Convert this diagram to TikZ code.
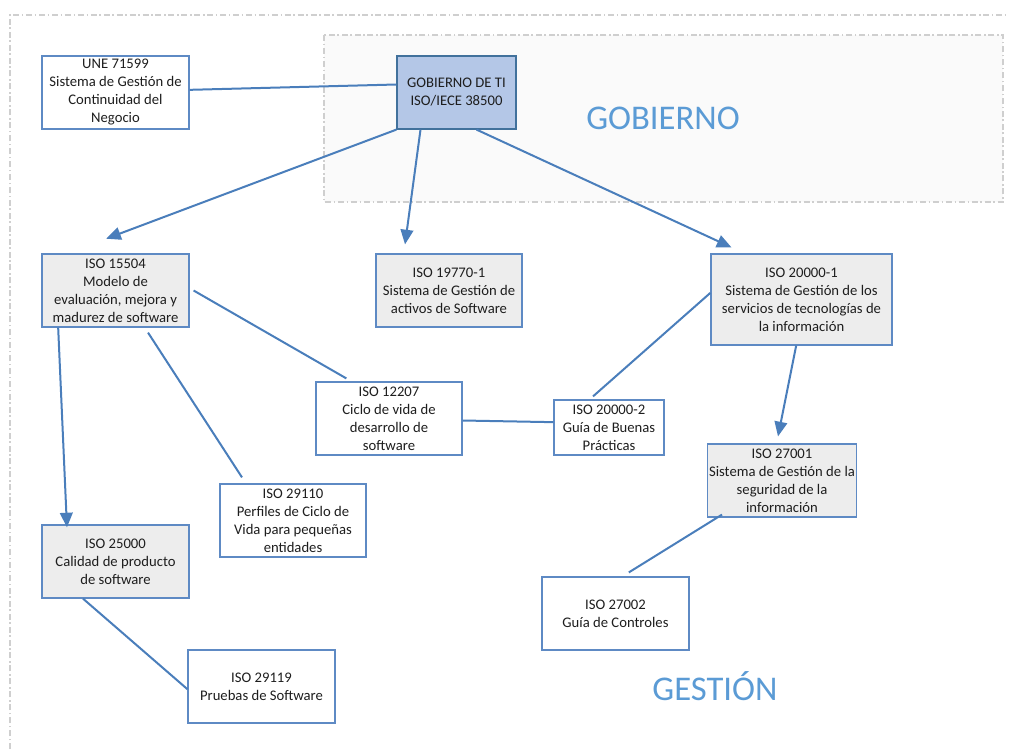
\documentclass[tikz,border=0pt]{standalone}
\usepackage{fontspec}
\setmainfont{Carlito}
\usepackage{tikz}
\usetikzlibrary{arrows.meta,shapes}
\definecolor{linkblue}{HTML}{4A7EBB}
\definecolor{boxline}{HTML}{5E8AC4}
\definecolor{headline}{HTML}{41719C}
\definecolor{headfill}{HTML}{B4C7E7}
\definecolor{greyfill}{HTML}{EDEDED}
\definecolor{panelfill}{HTML}{FAFAFA}
\definecolor{frameline}{HTML}{CFCFCF}
\definecolor{titleblue}{HTML}{5B9BD5}
\definecolor{textgrey}{HTML}{1E1E1E}

\begin{document}
\begin{tikzpicture}[x=0.75pt,y=-0.75pt,>={Triangle[length=11pt,width=9.5pt]},
                    iso node/.style={rectangle,draw=boxline,fill=white,line width=0.9pt,align=center,
                                     inner sep=1pt,text=textgrey,font=\fontsize{11}{13.5}\selectfont,
                                     minimum width=110.25pt,minimum height=54.75pt},
                    grey node/.style={iso node,fill=greyfill},
                    head node/.style={iso node,draw=headline,fill=headfill,minimum width=89.25pt},
                    title/.style={text=titleblue,font=\fontsize{26}{30}\selectfont},
                    frame line/.style={frameline,line width=0.8pt,dash pattern=on 4.5pt off 2pt on 1.2pt off 2pt},
                    link/.style={linkblue,line width=1.5pt}]

  \useasboundingbox (0,0) rectangle (1009,749);

  % marcos
  \draw[frame line] (10,749) -- (10,15) -- (1009,15);
  \draw[frame line,fill=panelfill] (324,35) rectangle (1003,202);

  \node[title] (gobierno) at (663,118) {GOBIERNO};
  \node[title] (gestion) at (715,686) {GESTIÓN};

  \node[iso node] (une) at (115.5,92.5) {UNE 71599\\Sistema de Gestión de\\Continuidad del\\Negocio};
  \node[head node] (gob) at (456.5,92.5) {GOBIERNO DE TI\\ISO/IECE 38500};
  \node[grey node] (iso15504) at (115.5,290.5) {ISO 15504\\Modelo de\\evaluación, mejora y\\madurez de software};
  \node[grey node,minimum width=109.5pt] (iso19770) at (449,290.5) {ISO 19770-1\\Sistema de Gestión de\\activos de Software};
  \node[grey node,minimum width=135.75pt,minimum height=68.25pt] (iso20001) at (801.5,299.5) {ISO 20000-1\\Sistema de Gestión de los\\servicios de tecnologías de\\la información};
  \node[iso node,minimum width=109.5pt] (iso12207) at (389,418.5) {ISO 12207\\Ciclo de vida de\\desarrollo de\\software};
  \node[iso node,minimum width=82.5pt,minimum height=41.25pt] (iso20002) at (609,427.5) {ISO 20000-2\\Guía de Buenas\\Prácticas};
  \node[grey node,minimum width=109.5pt] (iso27001) at (782,480.5) {ISO 27001\\Sistema de Gestión de la\\seguridad de la\\información};
  \node[iso node,minimum width=109.5pt] (iso29110) at (293,520.5) {ISO 29110\\Perfiles de Ciclo de\\Vida para pequeñas\\entidades};
  \node[grey node] (iso25000) at (115.5,561.5) {ISO 25000\\Calidad de producto\\de software};
  \node[iso node] (iso27002) at (615.5,613.5) {ISO 27002\\Guía de Controles};
  \node[iso node] (iso29119) at (261.5,686.5) {ISO 29119\\Pruebas de Software};

  % relaciones
  \path[link]
    ([yshift=2pt]une.east) edge ([yshift=6pt]gob.west)
    ([xshift=3pt]iso15504.east) edge ([xshift=-32pt,yshift=2.25pt]iso12207.north)
    ([xshift=24.4pt,yshift=-3.75pt]iso15504.south) edge ([xshift=-38.25pt,yshift=4.5pt]iso29110.north)
    ([yshift=-1.5pt]iso12207.east) edge ([yshift=4pt]iso20002.west)
    ([xshift=-12pt,yshift=2.25pt]iso20002.north) edge ([yshift=5pt]iso20001.west)
    ([xshift=-45pt,yshift=2.25pt]iso27001.south) edge ([xshift=10pt,yshift=3pt]iso27002.north)
    ([xshift=-24.4pt]iso25000.south) edge ([yshift=-2pt]iso29119.west);

  \path[link,->]
    (gob.south west) edge ([xshift=-7pt,yshift=11pt]iso15504.north)
    ([xshift=-27pt]gob.south) edge ([xshift=-33pt,yshift=6.75pt]iso19770.north)
    ([xshift=15pt]gob.south) edge ([xshift=-52.5pt,yshift=4.5pt]iso20001.north)
    ([xshift=-43pt]iso15504.south) edge ([xshift=-36.4pt,yshift=-2.25pt]iso25000.north)
    ([xshift=-4pt]iso20001.south) edge ([xshift=-3pt,yshift=5.25pt]iso27001.north);
\end{tikzpicture}
\end{document}
